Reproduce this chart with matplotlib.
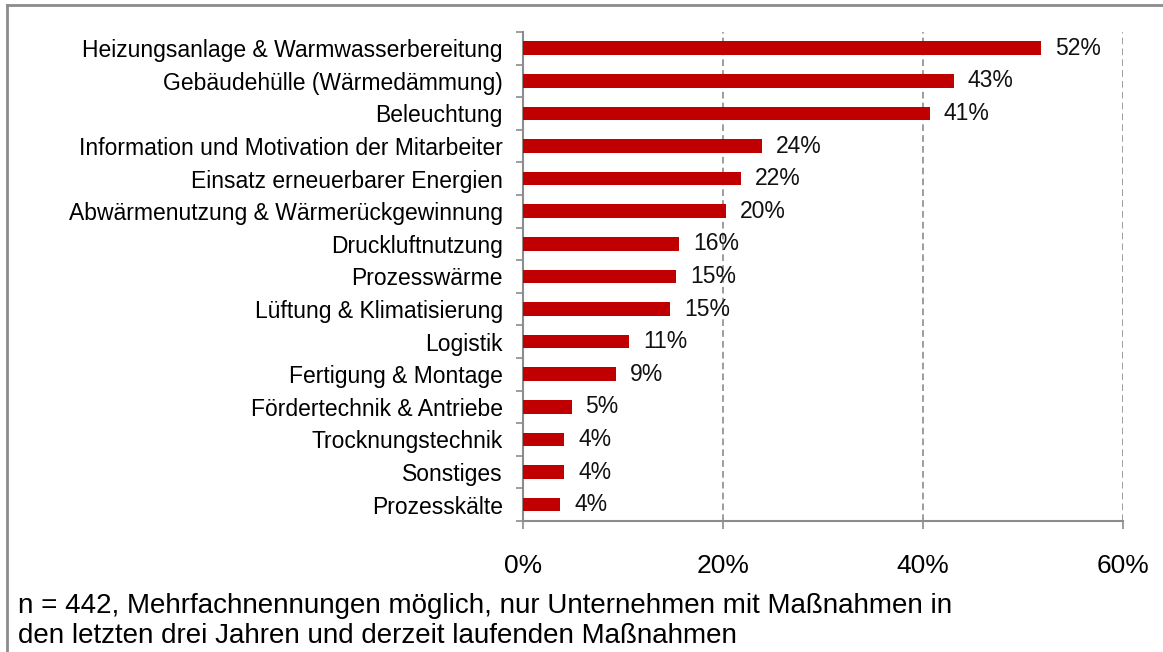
import matplotlib.pyplot as plt
import matplotlib as mpl
from matplotlib.ticker import FixedLocator, PercentFormatter
import numpy as np

mpl.rcParams.update({
    'font.family': ['Liberation Sans', 'DejaVu Sans'],
    'font.size': 16.5,
})

cats = ['Heizungsanlage & Warmwasserbereitung', 'Gebäudehülle (Wärmedämmung)',
        'Beleuchtung', 'Information und Motivation der Mitarbeiter',
        'Einsatz erneuerbarer Energien', 'Abwärmenutzung & Wärmerückgewinnung',
        'Druckluftnutzung', 'Prozesswärme', 'Lüftung & Klimatisierung',
        'Logistik', 'Fertigung & Montage', 'Fördertechnik & Antriebe',
        'Trocknungstechnik', 'Sonstiges', 'Prozesskälte']
values = [51.8, 43.1, 40.7, 23.9, 21.8, 20.3, 15.6, 15.3, 14.7,
          10.6, 9.3, 4.85, 4.1, 4.1, 3.7]
labels = ['52%', '43%', '41%', '24%', '22%', '20%', '16%', '15%', '15%',
          '11%', '9%', '5%', '4%', '4%', '4%']
note = ('n = 442, Mehrfachnennungen möglich, nur Unternehmen mit Maßnahmen in\n'
        'den letzten drei Jahren und derzeit laufenden Maßnahmen')

RED = '#C00000'
GRAY = '#8C8C8C'

fig = plt.figure(figsize=(11.63, 6.52), dpi=100)
ax = fig.add_axes([0.4497, 0.201, 0.5159, 0.750])

y = np.arange(len(cats))[::-1]
ax.barh(y, values, height=0.42, color=RED, zorder=3)
for yi, v, lab in zip(y, values, labels):
    ax.text(v + 1.4, yi, lab, ha='left', va='center', fontsize=16.5, color='#111')

ax.set_xlim(0, 60)
ax.set_ylim(-0.5, len(cats) - 0.5)
ax.xaxis.set_major_locator(FixedLocator([0, 20, 40, 60]))
ax.xaxis.set_major_formatter(PercentFormatter(decimals=0))
ax.tick_params(axis='x', labelsize=19, length=6, width=1.2, color=GRAY, pad=18)

ax.set_yticks(y)
ax.set_yticklabels(cats)
ax.tick_params(axis='y', length=0, pad=14.5, labelsize=16.5)
ax.yaxis.set_minor_locator(FixedLocator(np.arange(-0.5, len(cats), 1.0)))
ax.tick_params(axis='y', which='minor', length=5, width=1.2, color=GRAY)

for s in ['top', 'right']:
    ax.spines[s].set_visible(False)
for s in ['left', 'bottom']:
    ax.spines[s].set_color(GRAY)
    ax.spines[s].set_linewidth(1.5)

for gx in [20, 40, 60]:
    ax.axvline(gx, color=GRAY, linestyle=(0, (4, 2.5)), linewidth=1.2, zorder=1)

fig.text(18 / 1163, 1 - 621 / 652, note, fontsize=20, ha='left', va='center',
         linespacing=1.22)

# outer frame (only top and left edge visible in the crop)
fig.add_artist(plt.Line2D([7 / 1163, 1.0], [1 - 5 / 652] * 2,
                          transform=fig.transFigure, color=GRAY, linewidth=2))
fig.add_artist(plt.Line2D([7 / 1163] * 2, [0.0, 1 - 5 / 652],
                          transform=fig.transFigure, color=GRAY, linewidth=2))

fig.savefig('out.png', dpi=100)
